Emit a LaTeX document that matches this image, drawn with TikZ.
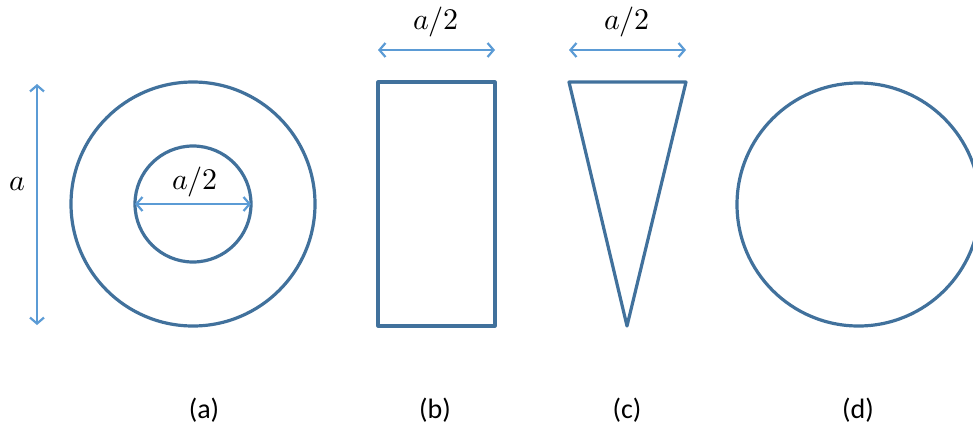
\documentclass[tikz,border=0pt]{standalone}
\usepackage{fontspec}
\usepackage{unicode-math}
\setmainfont{Carlito}
\setmathfont{Latin Modern Math}
\usetikzlibrary{arrows.meta}
\definecolor{shapecol}{HTML}{41719C}
\definecolor{arrcol}{HTML}{5B9BD5}
\begin{document}
\begin{tikzpicture}[x=1pt,y=-1pt,
  shp/.style={draw=shapecol,line width=3.2pt,line join=round},
  dim/.style={draw=arrcol,line width=2.2pt,{Straight Barb[length=6pt,width=14pt,line width=2.2pt]}-{Straight Barb[length=6pt,width=14pt,line width=2.2pt]}},
  mlab/.style={inner sep=0pt,font=\fontsize{30}{32}\selectfont},
  captxt/.style={inner sep=0pt,font=\fontsize{28}{30}\selectfont}]
\useasboundingbox (0,0) rectangle (973,429);
% (a)
\draw[shp] (193,204) circle[radius=122];
\draw[shp] (193,204) circle[radius=58];
\coordinate (va) at (37,84);
\coordinate (vb) at (37,325);
\draw[dim] (va) -- (vb);
\node[mlab] (la) at (17,184) {$a$};
\coordinate (ia) at (135,204);
\coordinate (ib) at (251,204);
\draw[dim] (ia) -- (ib);
\node[mlab] (lia) at (195,182) {$a/2$};
% (b)
\draw[shp] (378,82) rectangle (495,326);
\coordinate (ba) at (378,50);
\coordinate (bb) at (495,50);
\draw[dim] (ba) -- (bb);
\node[mlab] (lb) at (436,22) {$a/2$};
% (c)
\draw[shp] (569,82) -- (686,82) -- (627,326) -- cycle;
\coordinate (ca) at (569,50);
\coordinate (cb) at (686,50);
\draw[dim] (ca) -- (cb);
\node[mlab] (lc) at (627,22) {$a/2$};
% (d)
\draw[shp] (858.5,204.5) circle[radius=121.5];
% captions
\node[captxt] (capa) at (204,410) {(a)};
\node[captxt] (capb) at (435,410) {(b)};
\node[captxt] (capc) at (627,410) {(c)};
\node[captxt] (capd) at (858,410) {(d)};
\end{tikzpicture}
\end{document}
